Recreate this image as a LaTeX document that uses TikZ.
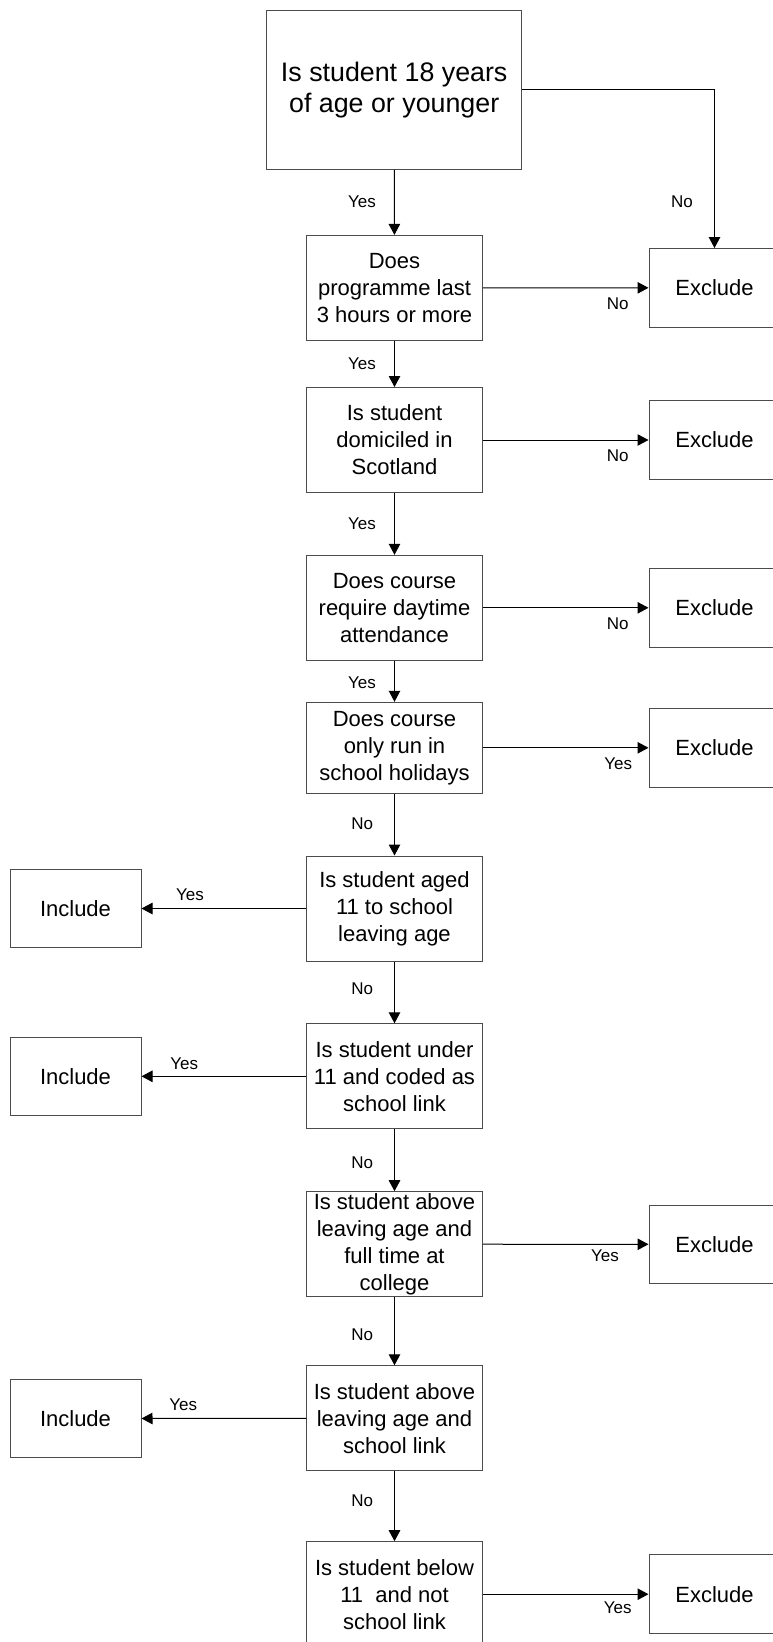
\documentclass[tikz,border=0pt]{standalone}
\usepackage{fontspec}
\setmainfont{Liberation Sans}
\usetikzlibrary{arrows.meta}

\tikzset{
  question/.style={draw=black!70, line width=1pt, minimum width=175.5pt,
    minimum height=105pt, inner sep=0pt, align=center,
    font=\fontsize{22}{27}\selectfont},
  outcome/.style={draw=black!70, line width=1pt, minimum width=131pt,
    minimum height=78.5pt, inner sep=0pt,
    font=\fontsize{22}{27}\selectfont},
  answer/.style={inner sep=0pt, font=\fontsize{17}{20}\selectfont},
  flow/.style={line width=1pt, -{Triangle[length=11pt,width=11.5pt]}}
}

\begin{document}
\begin{tikzpicture}[x=1pt, y=-1pt]
  \useasboundingbox (0,0) rectangle (773,1642);
  \clip (0,0) rectangle (773,1642);

  % questions down the middle
  \node[question, minimum width=255pt, minimum height=159.3pt,
    font=\fontsize{26.8}{31}\selectfont] (age18) at (394.2,89.7)
    {Is student 18 years\\of age or younger};
  \node[question] (hours) at (394.5,287.9) {Does\\programme last\\3 hours or more};
  \node[question] (domicile) at (394.5,440) {Is student\\domiciled in\\Scotland};
  \node[question] (daytime) at (394.5,607.8) {Does course\\require daytime\\attendance};
  \node[question, minimum height=91pt] (holidays) at (394.5,747.8)
    {Does course\\only run in\\school holidays};
  \node[question] (aged11) at (394.5,908.5) {Is student aged\\11 to school\\leaving age};
  \node[question] (under11) at (394.5,1076.3) {Is student under\\11 and coded as\\school link};
  \node[question] (fulltime) at (394.5,1244.2)
    {Is student above\\leaving age and\\full time at\\college};
  \node[question] (abovelink) at (394.5,1418.3) {Is student above\\leaving age and\\school link};
  \node[question] (below11) at (394.5,1594.2) {Is student below\\11\ \ and not\\school link};

  % outcomes
  \node[outcome] (excl1) at (714.5,287.8) {Exclude};
  \node[outcome] (excl2) at (714.5,440) {Exclude};
  \node[outcome] (excl3) at (714.5,607.8) {Exclude};
  \node[outcome] (excl4) at (714.5,747.8) {Exclude};
  \node[outcome] (excl5) at (714.5,1244.3) {Exclude};
  \node[outcome] (excl6) at (714.5,1594.2) {Exclude};
  \node[outcome] (incl1) at (75.5,908.5) {Include};
  \node[outcome] (incl2) at (75.5,1076.3) {Include};
  \node[outcome] (incl3) at (75.5,1418.5) {Include};

  \draw[flow] (age18.east) -| (excl1.north);
  \draw[flow] (age18) -- (hours);
  \draw[flow] (hours) -- (excl1);
  \draw[flow] (hours) -- (domicile);
  \draw[flow] (domicile) -- (excl2);
  \draw[flow] (domicile) -- (daytime);
  \draw[flow] (daytime) -- (excl3);
  \draw[flow] (daytime) -- (holidays);
  \draw[flow] (holidays) -- (excl4);
  \draw[flow] (holidays) -- (aged11);
  \draw[flow] (aged11) -- (incl1);
  \draw[flow] (aged11) -- (under11);
  \draw[flow] (under11) -- (incl2);
  \draw[flow] (under11) -- (fulltime);
  \draw[flow] (fulltime) -- (excl5);
  \draw[flow] (fulltime) -- (abovelink);
  \draw[flow] (abovelink) -- (incl3);
  \draw[flow] (abovelink) -- (below11);
  \draw[flow] (below11) -- (excl6);

  % yes / no
  \node[answer] (a1) at (362,202) {Yes};
  \node[answer] (a2) at (682,202) {No};
  \node[answer] (a3) at (617.7,304) {No};
  \node[answer] (a4) at (362,363.5) {Yes};
  \node[answer] (a5) at (617.7,456) {No};
  \node[answer] (a6) at (362,523.3) {Yes};
  \node[answer] (a7) at (617.7,623.3) {No};
  \node[answer] (a8) at (362,682.7) {Yes};
  \node[answer] (a9) at (618.3,763.3) {Yes};
  \node[answer] (a10) at (362.3,823.5) {No};
  \node[answer] (a11) at (190,895) {Yes};
  \node[answer] (a12) at (362.3,989) {No};
  \node[answer] (a13) at (184.3,1063.3) {Yes};
  \node[answer] (a14) at (362.3,1162.3) {No};
  \node[answer] (a15) at (605,1256) {Yes};
  \node[answer] (a16) at (362.3,1335) {No};
  \node[answer] (a17) at (183.3,1405) {Yes};
  \node[answer] (a18) at (362.3,1501) {No};
  \node[answer] (a19) at (617.7,1607.3) {Yes};
\end{tikzpicture}
\end{document}
